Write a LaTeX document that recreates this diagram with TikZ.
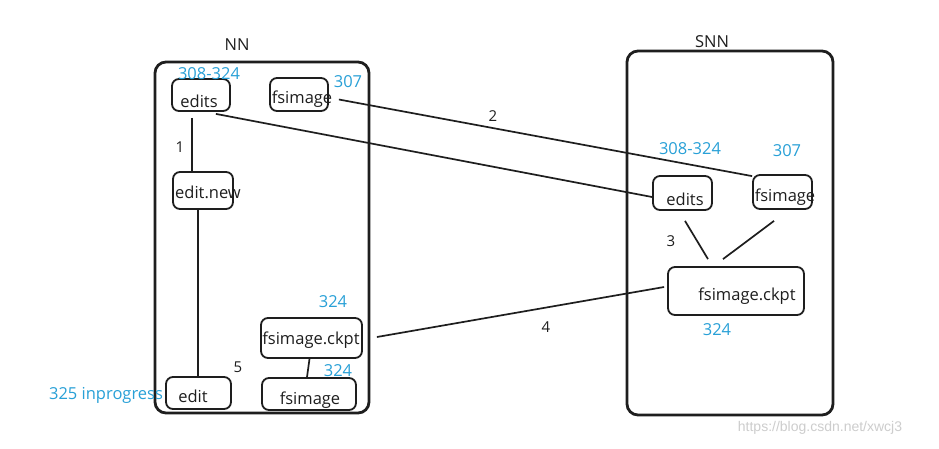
\documentclass[tikz,border=0pt]{standalone}
\usepackage{fontspec}
\setmainfont{Open Sans}
\newfontfamily\wmfont{Liberation Sans}
\definecolor{numblue}{RGB}{40,160,215}
\definecolor{ink}{RGB}{30,30,30}
\definecolor{wm}{RGB}{205,205,205}
\begin{document}
\begin{tikzpicture}[x=1pt,y=-1pt,
  bigbox/.style={draw=ink, line width=2.8pt, rounded corners=11pt, inner sep=0pt},
  box/.style={draw=ink, line width=1.8pt, rounded corners=7pt, inner sep=0pt},
  txt/.style={text=ink, font=\fontsize{16.5}{18}\selectfont, inner sep=0pt},
  num/.style={text=numblue, font=\fontsize{16.5}{18}\selectfont, inner sep=0pt},
  lbl/.style={text=ink, font=\fontsize{15}{17}\selectfont, inner sep=0pt},
  conn/.style={draw=ink, line width=1.7pt}]
\path[fill=white, use as bounding box] (0,0) rectangle (939,448);

% containers
\node[bigbox, minimum width=214pt, minimum height=351pt] (nn) at (262,237.5) {};
\node[bigbox, minimum width=206pt, minimum height=364pt] (snn) at (730,233) {};
\node[txt] (nnT) at (237,45) {NN};
\node[txt] (snnT) at (712,42) {SNN};

% NN boxes
\node[box, minimum width=58pt, minimum height=32pt] (nedits) at (201,95) {};
\node[box, minimum width=58pt, minimum height=33pt] (nfs) at (299,94.5) {};
\node[box, minimum width=60pt, minimum height=37pt] (nnew) at (203,190.5) {};
\node[box, minimum width=65pt, minimum height=32pt] (nedit) at (198.5,393) {};
\node[box, minimum width=101pt, minimum height=40pt] (nck) at (311.5,338) {};
\node[box, minimum width=94pt, minimum height=32pt] (nfsb) at (309,394) {};

\node[txt] (neditsT) at (199,101) {edits};
\node[txt] (nfsT) at (302,99) {fsimage};
\node[txt] (nnewT) at (208,192) {edit.new};
\node[txt] (neditT) at (193,396) {edit};
\node[txt] (nckT) at (311,340) {fsimage.ckpt};
\node[txt] (nfsbT) at (310,400) {fsimage};

% SNN boxes
\node[box, minimum width=59pt, minimum height=34pt] (sedits) at (682.5,193) {};
\node[box, minimum width=59pt, minimum height=34pt] (sfs) at (782.5,192) {};
\node[box, minimum width=136pt, minimum height=48pt] (sck) at (736,291) {};
\node[txt] (seditsT) at (685,199) {edits};
\node[txt] (sfsT) at (785,197) {fsimage};
\node[txt] (sckT) at (747,296) {fsimage.ckpt};

% blue numbers
\node[num] (b1) at (209,74) {308-324};
\node[num] (b2) at (348,82) {307};
\node[num] (b3) at (333,302) {324};
\node[num] (b4) at (338,371) {324};
\node[num] (b5) at (106,395) {325 inprogress};
\node[num] (b6) at (690,149) {308-324};
\node[num] (b7) at (787,151) {307};
\node[num] (b8) at (717,330) {324};

% step labels
\node[lbl] (l1) at (180,147) {1};
\node[lbl] (l2) at (493,116) {2};
\node[lbl] (l3) at (671,241) {3};
\node[lbl] (l4) at (546,327) {4};
\node[lbl] (l5) at (238,367) {5};

% connectors
\draw[conn] ([xshift=-9pt,yshift=-6pt]nedits.south) -- ([xshift=-11pt]nnew.north);
\draw[conn] ([xshift=-5pt]nnew.south) -- ([xshift=-0.5pt]nedit.north);
\draw[conn] ([xshift=-2pt]nck.south) -- ([xshift=-2pt]nfsb.north);
\draw[conn] ([xshift=-15pt,yshift=-2pt]nedits.south east) -- ([yshift=-4pt]sedits.west);
\draw[conn] ([xshift=10pt,yshift=-5pt]nfs.east) -- ([yshift=-2pt]sfs.north west);
\draw[conn] ([xshift=2.5pt,yshift=-10pt]sedits.south) -- ([xshift=-28pt,yshift=7pt]sck.north);
\draw[conn] ([xshift=-8.5pt,yshift=-11pt]sfs.south) -- ([xshift=-13pt,yshift=7pt]sck.north);
\draw[conn] ([xshift=14pt,yshift=1pt]nck.east) -- ([xshift=-3pt,yshift=4pt]sck.west);

% watermark
\node[text=wm, font=\wmfont\fontsize{14}{16}\selectfont, inner sep=0pt] (wmark) at (820,428) {https://blog.csdn.net/xwcj3};
\end{tikzpicture}
\end{document}
